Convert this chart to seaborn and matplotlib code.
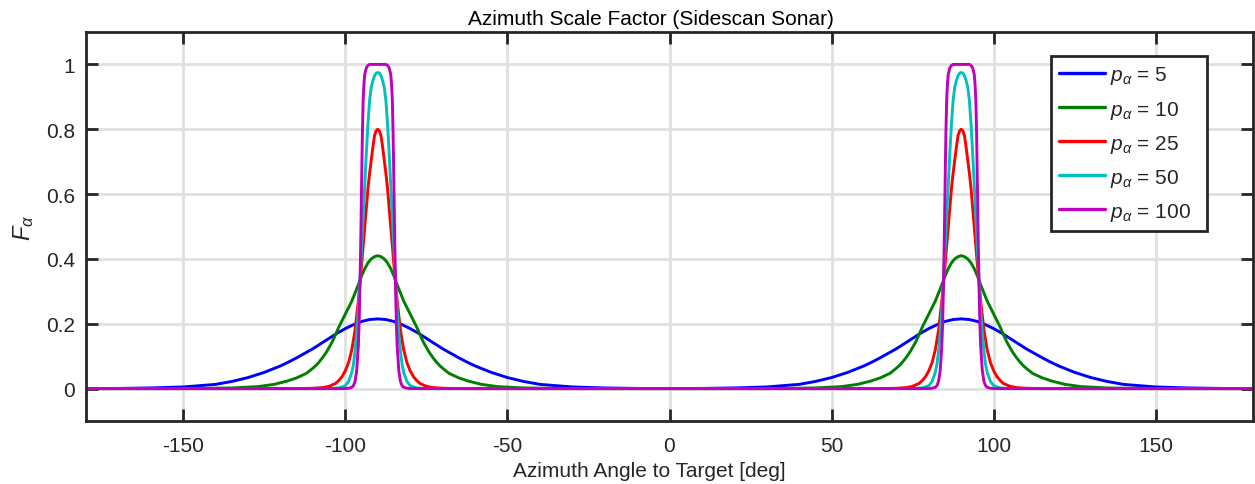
import numpy as np
import pandas as pd
import matplotlib
matplotlib.use("Agg")
import matplotlib.pyplot as plt
import seaborn as sns

# ---- data (profile vs. offset from the +/-90 deg peaks) ----
p_values = [5, 10, 25, 50, 100]
colors = ["#0000ff", "#008000", "#ff0000", "#00bfbf", "#bf00bf"]

off_p5 = [0, 2.5, 5, 7.5, 10, 12.5, 15, 17.5, 20, 22.5, 25, 27.5, 30, 32.5, 35, 37.5,
          40, 45, 50, 55, 60, 70, 80, 90]
val_p5 = [0.215, 0.213, 0.207, 0.197, 0.185, 0.171, 0.155, 0.139, 0.123, 0.109, 0.095,
          0.082, 0.070, 0.060, 0.050, 0.042, 0.034, 0.022, 0.013, 0.009, 0.005, 0.002,
          0.0005, 0.0]

off_p10 = [0, 1, 2, 3, 4, 5, 6, 7, 8, 9, 10, 11, 12, 13, 14, 15, 16, 17, 18, 19, 20,
           22, 25, 28, 32, 37, 45, 60, 90]
val_p10 = [0.41, 0.407, 0.40, 0.388, 0.37, 0.347, 0.32, 0.295, 0.27, 0.25, 0.23, 0.21,
           0.19, 0.167, 0.145, 0.127, 0.11, 0.096, 0.083, 0.072, 0.063, 0.047, 0.033,
           0.023, 0.013, 0.006, 0.002, 0.0, 0.0]

off_p25 = [0, 0.5, 1, 1.5, 2, 2.5, 3, 3.5, 4, 4.5, 5, 5.5, 6, 6.5, 7, 7.5, 8, 9, 10,
           11, 12, 13, 15, 17, 20, 25, 90]
val_p25 = [0.80, 0.795, 0.78, 0.745, 0.705, 0.665, 0.62, 0.56, 0.50, 0.44, 0.38, 0.325,
           0.27, 0.225, 0.18, 0.15, 0.12, 0.08, 0.055, 0.037, 0.025, 0.016, 0.007,
           0.003, 0.001, 0.0, 0.0]

off_p50 = [0, 0.5, 1, 1.5, 2, 2.5, 3, 3.5, 4, 4.5, 5, 5.5, 6, 6.5, 7, 7.5, 8, 9, 10,
           12, 15, 90]
val_p50 = [0.975, 0.973, 0.965, 0.95, 0.93, 0.89, 0.82, 0.73, 0.63, 0.53, 0.43, 0.33,
           0.24, 0.17, 0.115, 0.075, 0.05, 0.022, 0.009, 0.002, 0.0, 0.0]

off_p100 = [0, 2.5, 3, 3.5, 4, 4.25, 4.5, 4.75, 5, 5.25, 5.5, 5.75, 6, 6.5, 7, 7.5, 8,
            9, 10, 90]
val_p100 = [1.0, 1.0, 0.997, 0.99, 0.97, 0.94, 0.89, 0.78, 0.62, 0.45, 0.31, 0.20,
            0.13, 0.055, 0.022, 0.009, 0.004, 0.001, 0.0, 0.0]

peak_centers = [-90, 90]
x_ticks = [-150, -100, -50, 0, 50, 100, 150]
y_ticks = [0, 0.2, 0.4, 0.6, 0.8, 1]
y_ticklabels = ["0", "0.2", "0.4", "0.6", "0.8", "1"]

title = "Azimuth Scale Factor (Sidescan Sonar)"
xlabel = "Azimuth Angle to Target [deg]"
ylabel = r"$F_{\alpha}$"

# ---- build long table (mirror each profile around both peaks) ----
profiles = [(off_p5, val_p5), (off_p10, val_p10), (off_p25, val_p25),
            (off_p50, val_p50), (off_p100, val_p100)]
labels = [r"$p_{\alpha}$ = " + str(p) for p in p_values]
rows = []
for label, (offs, vals) in zip(labels, profiles):
    offs = np.asarray(offs, float)
    vals = np.asarray(vals, float)
    xs, ys = [], []
    for c in peak_centers:
        xs += list(c - offs[::-1]) + list(c + offs[1:])
        ys += list(vals[::-1]) + list(vals[1:])
    df_p = pd.DataFrame({"angle": xs, "F": ys})
    df_p = df_p.drop_duplicates("angle").sort_values("angle")
    df_p["label"] = label
    rows.append(df_p)
data = pd.concat(rows, ignore_index=True)

# ---- style ----
sns.set_style("whitegrid")
plt.rcParams["font.family"] = ["Liberation Sans", "DejaVu Sans"]
plt.rcParams["mathtext.fontset"] = "custom"
plt.rcParams["mathtext.rm"] = "Liberation Sans"
plt.rcParams["mathtext.it"] = "Liberation Sans:italic"

fig = plt.figure(figsize=(12.55, 4.85), dpi=100)
ax = fig.add_axes([86 / 1255, 1 - 422 / 485, (1253 - 86) / 1255, (422 - 33) / 485])

sns.lineplot(data=data, x="angle", y="F", hue="label", hue_order=labels,
             palette=colors, estimator=None, sort=True, linewidth=2.1, ax=ax)

ax.set_xlim(-180, 180)
ax.set_ylim(-0.1, 1.1)
ax.set_xticks(x_ticks)
ax.set_xticklabels([str(t) for t in x_ticks])
ax.set_yticks(y_ticks)
ax.set_yticklabels(y_ticklabels)

ax.grid(True, color="#e0e0e0", linewidth=2.0)
ax.set_axisbelow(True)
for s in ax.spines.values():
    s.set_color("#262626")
    s.set_linewidth(2.0)
ax.tick_params(axis="both", direction="in", length=8.5, width=2.0, color="#262626",
               labelsize=15, labelcolor="#262626", top=True, right=True,
               bottom=True, left=True)
ax.tick_params(axis="x", pad=11)
ax.tick_params(axis="y", pad=8)

ax.set_title(title, fontsize=15, color="black", pad=6, x=0.484)
ax.set_xlabel(xlabel, fontsize=15, color="#262626", labelpad=4, x=0.483)
ax.set_ylabel(ylabel, fontsize=17, color="#262626", labelpad=7)

leg = ax.legend(loc="upper left", bbox_to_anchor=(0.827, 0.478, 0.134, 0.46),
                mode="expand", borderaxespad=0, fontsize=15, frameon=True,
                fancybox=False, framealpha=1, edgecolor="#262626",
                handlelength=2.2, handletextpad=0.25, labelspacing=0.58,
                borderpad=0.4, title=None)
leg.get_frame().set_linewidth(2.0)
for line in leg.get_lines():
    line.set_linewidth(2.4)

fig.savefig("out.png", dpi=100)
